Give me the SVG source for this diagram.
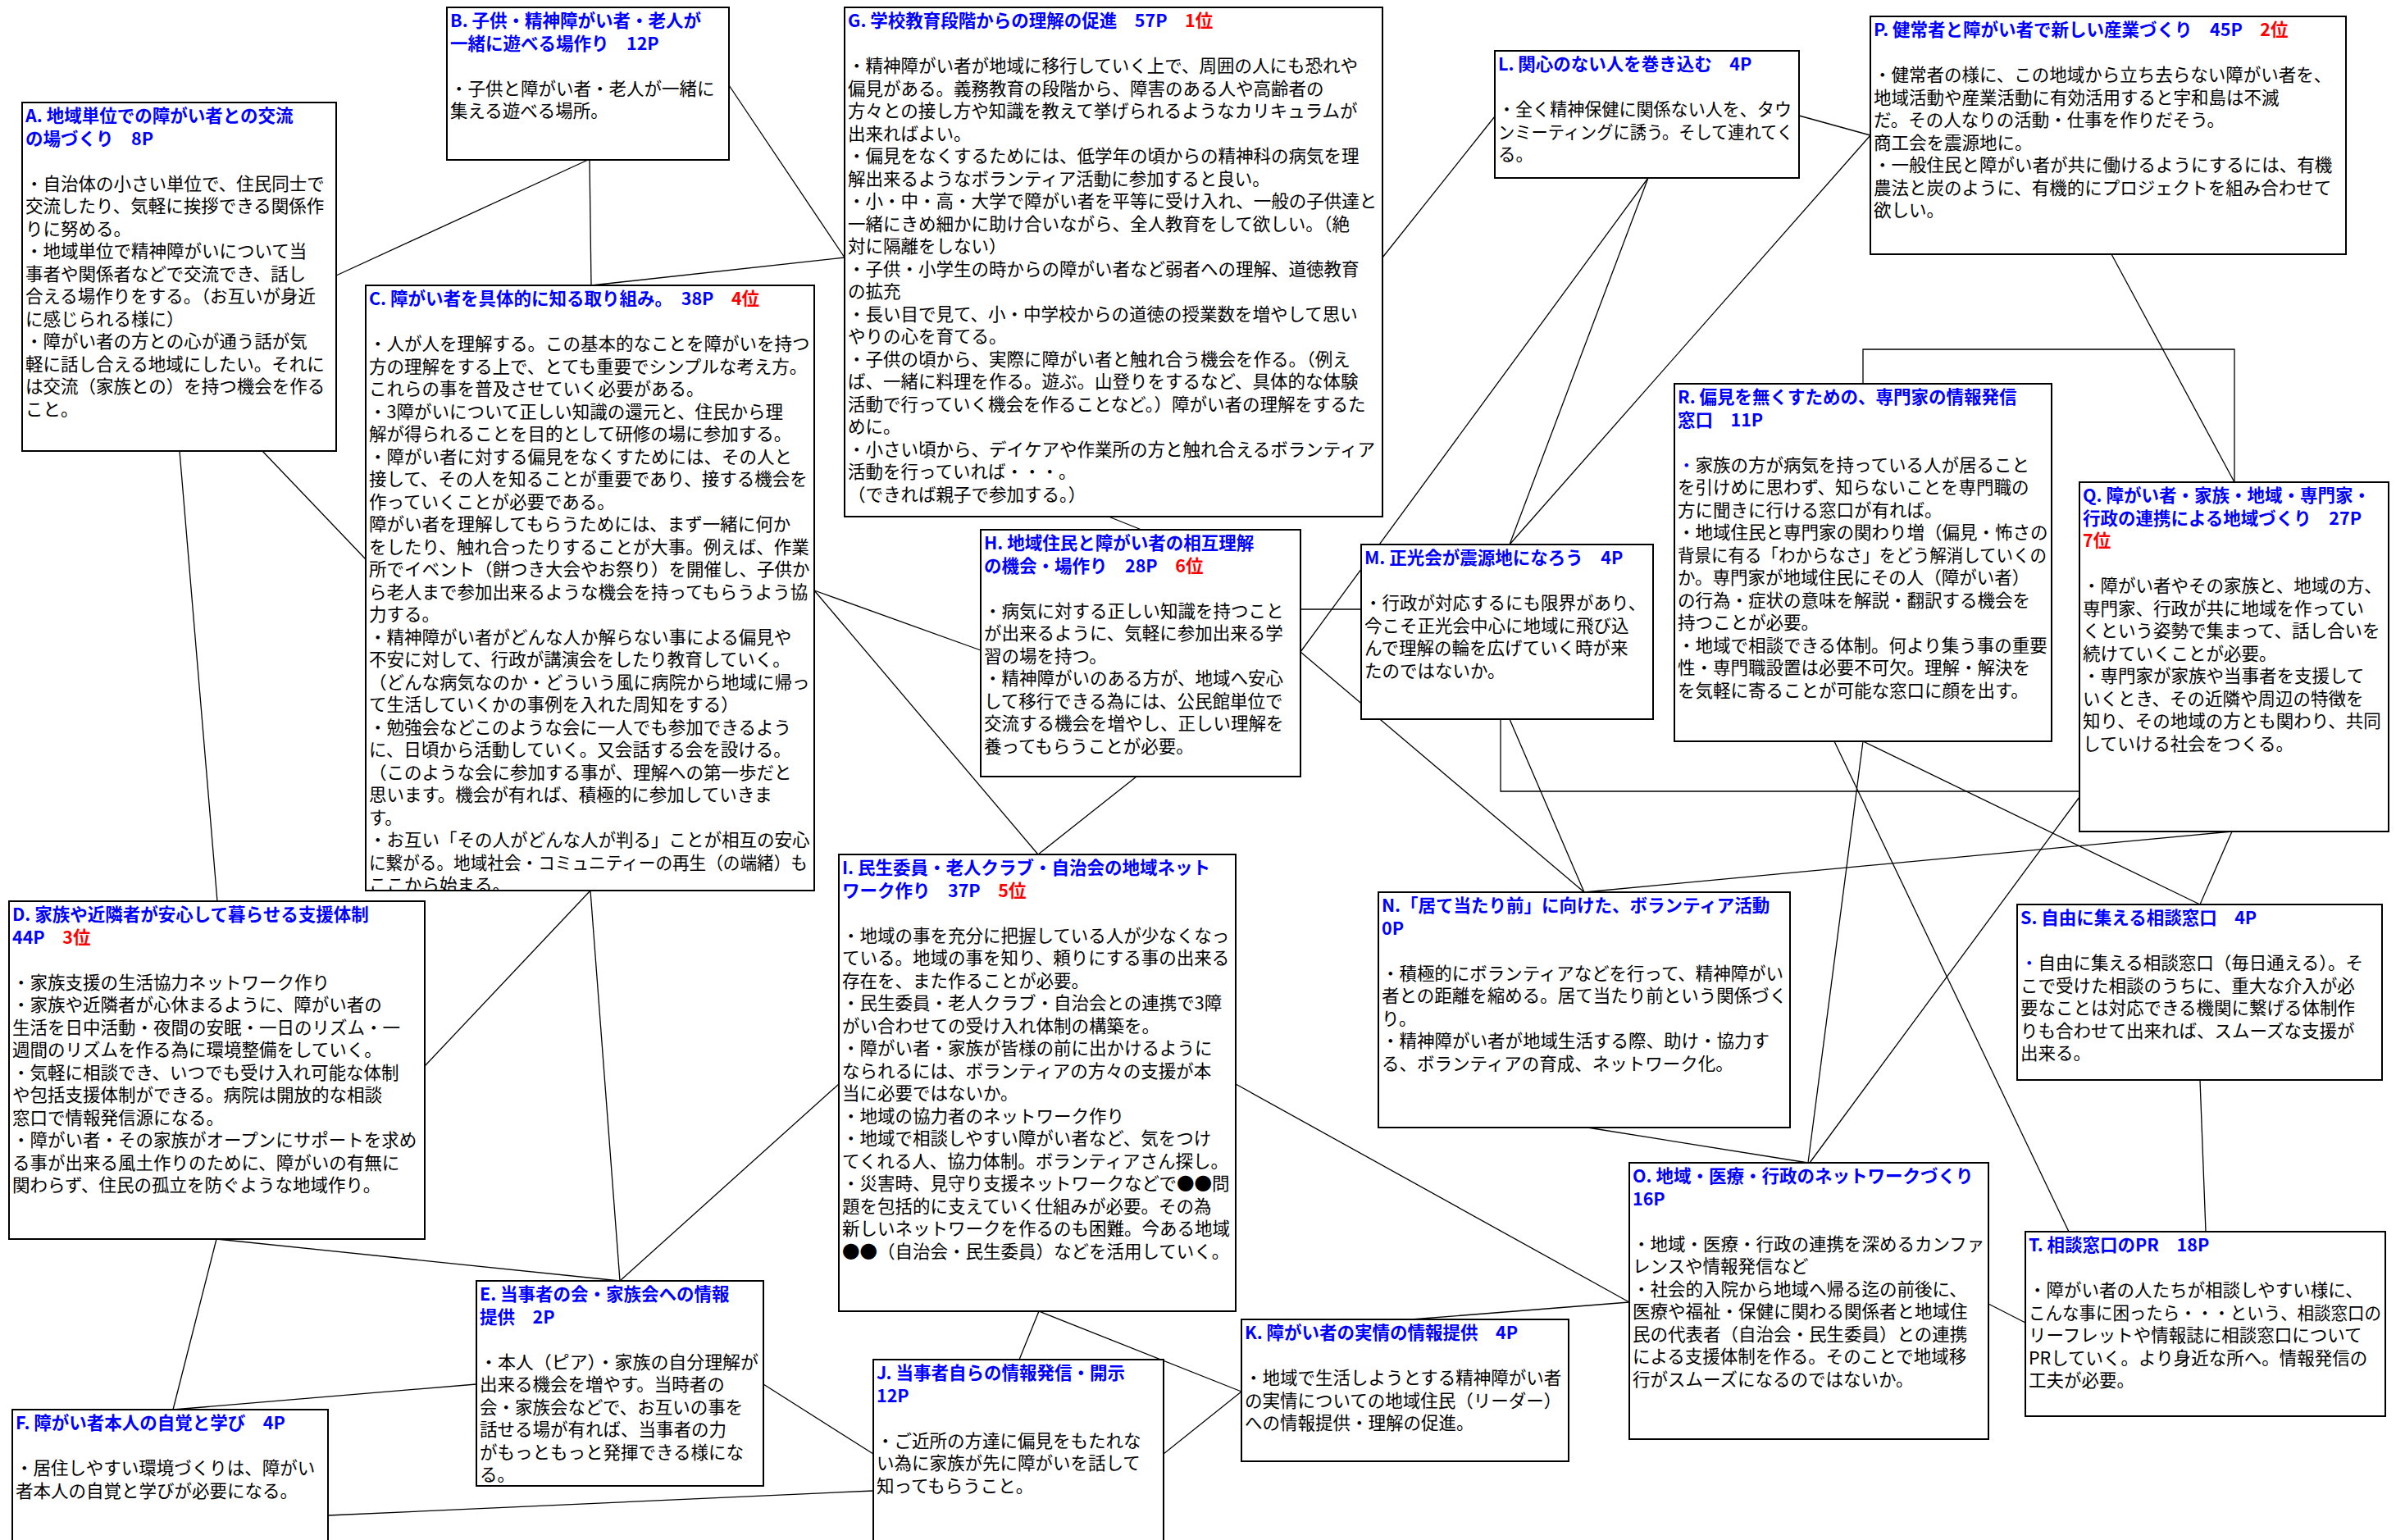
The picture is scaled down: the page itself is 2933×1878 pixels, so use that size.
<svg xmlns="http://www.w3.org/2000/svg" width="2933" height="1878" viewBox="0 0 2933 1878">
<style>
.box{fill:#fff;stroke:#000;stroke-width:2}
.tx{font-family:"Noto Sans CJK JP","Noto Sans",sans-serif;font-size:21.5px;fill:#000}
.ti{font-weight:bold;fill:#0000ff}
.rk{fill:#ff0000}
.bl{fill:#0000ff}
#connectors line,#connectors polyline{stroke:#000;stroke-width:1.3;fill:none}
</style>
<defs>
<clipPath id="clipC"><rect x="446" y="348" width="547" height="738"/></clipPath>
</defs>
<rect width="2933" height="1878" fill="#fff"/>
<g id="connectors">
<line x1="410" y1="336" x2="717" y2="195"/>
<line x1="719" y1="195" x2="721" y2="348"/>
<line x1="889" y1="104" x2="1030" y2="314"/>
<line x1="721" y1="348" x2="1030" y2="314"/>
<line x1="219" y1="550" x2="265" y2="1099"/>
<line x1="320" y1="550" x2="446" y2="682"/>
<line x1="993" y1="720" x2="1196" y2="793"/>
<line x1="993" y1="720" x2="1266" y2="1042"/>
<line x1="720" y1="1086" x2="518" y2="1300"/>
<line x1="720" y1="1086" x2="756" y2="1562"/>
<line x1="264" y1="1511" x2="211" y2="1719"/>
<line x1="264" y1="1511" x2="756" y2="1562"/>
<line x1="756" y1="1562" x2="1023" y2="1322"/>
<line x1="581" y1="1688" x2="211" y2="1719"/>
<line x1="931" y1="1688" x2="1065" y2="1773"/>
<line x1="400" y1="1848" x2="1065" y2="1818"/>
<line x1="1243" y1="1658" x2="1267" y2="1599"/>
<line x1="1267" y1="1599" x2="1514" y2="1697"/>
<line x1="1419" y1="1773" x2="1514" y2="1697"/>
<line x1="1721" y1="1609" x2="1987" y2="1588"/>
<line x1="1507" y1="1322" x2="1987" y2="1588"/>
<line x1="2425" y1="1590" x2="2470" y2="1613"/>
<line x1="1936" y1="1375" x2="2205" y2="1418"/>
<line x1="2272" y1="904" x2="2205" y2="1418"/>
<line x1="2536" y1="972" x2="2207" y2="1418"/>
<line x1="2237" y1="904" x2="2523" y2="1502"/>
<line x1="2272" y1="904" x2="2683" y2="1103"/>
<line x1="2722" y1="1014" x2="2683" y2="1103"/>
<line x1="2722" y1="1014" x2="1932" y2="1088"/>
<line x1="2683" y1="1317" x2="2690" y2="1502"/>
<polyline points="1830,877 1830,965 2536,965"/>
<line x1="1841" y1="877" x2="1932" y2="1088"/>
<line x1="1586" y1="795" x2="1932" y2="1088"/>
<line x1="1586" y1="795" x2="2010" y2="217"/>
<line x1="1586" y1="743" x2="1660" y2="743"/>
<line x1="2010" y1="217" x2="1841" y2="664"/>
<line x1="2281" y1="165" x2="1841" y2="664"/>
<line x1="2194" y1="141" x2="2281" y2="165"/>
<line x1="1686" y1="314" x2="1823" y2="142"/>
<line x1="1352" y1="630" x2="1392" y2="646"/>
<line x1="1386" y1="947" x2="1266" y2="1042"/>
<polyline points="2272,468 2272,426 2725,426 2725,588"/>
<line x1="2575" y1="310" x2="2725" y2="588"/>
</g>

<g id="node-A">
<rect class="box" x="27" y="125" width="383" height="425"/>
<text class="tx">
<tspan class="ti" x="31" y="149">A. 地域単位での障がい者との交流</tspan>
<tspan class="ti" x="31" y="176.5">の場づくり　8P</tspan>
<tspan x="31" y="231.5">・自治体の小さい単位で、住民同士で</tspan>
<tspan x="31" y="259">交流したり、気軽に挨拶できる関係作</tspan>
<tspan x="31" y="286.5">りに努める。</tspan>
<tspan x="31" y="314">・地域単位で精神障がいについて当</tspan>
<tspan x="31" y="341.5">事者や関係者などで交流でき、話し</tspan>
<tspan x="31" y="369">合える場作りをする。（お互いが身近</tspan>
<tspan x="31" y="396.5">に感じられる様に）</tspan>
<tspan x="31" y="424">・障がい者の方との心が通う話が気</tspan>
<tspan x="31" y="451.5">軽に話し合える地域にしたい。それに</tspan>
<tspan x="31" y="479">は交流（家族との）を持つ機会を作る</tspan>
<tspan x="31" y="506.5">こと。</tspan>
</text>
</g>

<g id="node-B">
<rect class="box" x="545" y="9" width="344" height="186"/>
<text class="tx">
<tspan class="ti" x="549" y="33">B. 子供・精神障がい者・老人が</tspan>
<tspan class="ti" x="549" y="60.5">一緒に遊べる場作り　12P</tspan>
<tspan x="549" y="115.5">・子供と障がい者・老人が一緒に</tspan>
<tspan x="549" y="143">集える遊べる場所。</tspan>
</text>
</g>

<g id="node-G">
<rect class="box" x="1030" y="9" width="656" height="621"/>
<text class="tx">
<tspan class="ti" x="1034" y="33">G. 学校教育段階からの理解の促進　57P　<tspan class="rk">1位</tspan></tspan>
<tspan x="1034" y="88">・精神障がい者が地域に移行していく上で、周囲の人にも恐れや</tspan>
<tspan x="1034" y="115.5">偏見がある。義務教育の段階から、障害のある人や高齢者の</tspan>
<tspan x="1034" y="143">方々との接し方や知識を教えて挙げられるようなカリキュラムが</tspan>
<tspan x="1034" y="170.5">出来ればよい。</tspan>
<tspan x="1034" y="198">・偏見をなくするためには、低学年の頃からの精神科の病気を理</tspan>
<tspan x="1034" y="225.5">解出来るようなボランティア活動に参加すると良い。</tspan>
<tspan x="1034" y="253">・小・中・高・大学で障がい者を平等に受け入れ、一般の子供達と</tspan>
<tspan x="1034" y="280.5">一緒にきめ細かに助け合いながら、全人教育をして欲しい。（絶</tspan>
<tspan x="1034" y="308">対に隔離をしない）</tspan>
<tspan x="1034" y="335.5">・子供・小学生の時からの障がい者など弱者への理解、道徳教育</tspan>
<tspan x="1034" y="363">の拡充</tspan>
<tspan x="1034" y="390.5">・長い目で見て、小・中学校からの道徳の授業数を増やして思い</tspan>
<tspan x="1034" y="418">やりの心を育てる。</tspan>
<tspan x="1034" y="445.5">・子供の頃から、実際に障がい者と触れ合う機会を作る。（例え</tspan>
<tspan x="1034" y="473">ば、一緒に料理を作る。遊ぶ。山登りをするなど、具体的な体験</tspan>
<tspan x="1034" y="500.5">活動で行っていく機会を作ることなど。）障がい者の理解をするた</tspan>
<tspan x="1034" y="528">めに。</tspan>
<tspan x="1034" y="555.5">・小さい頃から、デイケアや作業所の方と触れ合えるボランティア</tspan>
<tspan x="1034" y="583">活動を行っていれば・・・。</tspan>
<tspan x="1034" y="610.5">（できれば親子で参加する。）</tspan>
</text>
</g>

<g id="node-C">
<rect class="box" x="446" y="348" width="547" height="738"/>
<text class="tx" clip-path="url(#clipC)">
<tspan class="ti" x="450" y="372">C. 障がい者を具体的に知る取り組み。　38P　<tspan class="rk">4位</tspan></tspan>
<tspan x="450" y="427">・人が人を理解する。この基本的なことを障がいを持つ</tspan>
<tspan x="450" y="454.5">方の理解をする上で、とても重要でシンプルな考え方。</tspan>
<tspan x="450" y="482">これらの事を普及させていく必要がある。</tspan>
<tspan x="450" y="509.5">・3障がいについて正しい知識の還元と、住民から理</tspan>
<tspan x="450" y="537">解が得られることを目的として研修の場に参加する。</tspan>
<tspan x="450" y="564.5">・障がい者に対する偏見をなくすためには、その人と</tspan>
<tspan x="450" y="592">接して、その人を知ることが重要であり、接する機会を</tspan>
<tspan x="450" y="619.5">作っていくことが必要である。</tspan>
<tspan x="450" y="647">障がい者を理解してもらうためには、まず一緒に何か</tspan>
<tspan x="450" y="674.5">をしたり、触れ合ったりすることが大事。例えば、作業</tspan>
<tspan x="450" y="702">所でイベント（餅つき大会やお祭り）を開催し、子供か</tspan>
<tspan x="450" y="729.5">ら老人まで参加出来るような機会を持ってもらうよう協</tspan>
<tspan x="450" y="757">力する。</tspan>
<tspan x="450" y="784.5">・精神障がい者がどんな人か解らない事による偏見や</tspan>
<tspan x="450" y="812">不安に対して、行政が講演会をしたり教育していく。</tspan>
<tspan x="450" y="839.5">（どんな病気なのか・どういう風に病院から地域に帰っ</tspan>
<tspan x="450" y="867">て生活していくかの事例を入れた周知をする）</tspan>
<tspan x="450" y="894.5">・勉強会などこのような会に一人でも参加できるよう</tspan>
<tspan x="450" y="922">に、日頃から活動していく。又会話する会を設ける。</tspan>
<tspan x="450" y="949.5">（このような会に参加する事が、理解への第一歩だと</tspan>
<tspan x="450" y="977">思います。機会が有れば、積極的に参加していきま</tspan>
<tspan x="450" y="1004.5">す。</tspan>
<tspan x="450" y="1032">・お互い「その人がどんな人が判る」ことが相互の安心</tspan>
<tspan x="450" y="1059.5" textLength="535" lengthAdjust="spacingAndGlyphs">に繋がる。地域社会・コミュニティーの再生（の端緒）も</tspan>
<tspan x="450" y="1087">ここから始まる。</tspan>
</text>
</g>

<g id="node-H">
<rect class="box" x="1196" y="646" width="390" height="301"/>
<text class="tx">
<tspan class="ti" x="1200" y="670">H. 地域住民と障がい者の相互理解</tspan>
<tspan class="ti" x="1200" y="697.5">の機会・場作り　28P　<tspan class="rk">6位</tspan></tspan>
<tspan x="1200" y="752.5">・病気に対する正しい知識を持つこと</tspan>
<tspan x="1200" y="780">が出来るように、気軽に参加出来る学</tspan>
<tspan x="1200" y="807.5">習の場を持つ。</tspan>
<tspan x="1200" y="835">・精神障がいのある方が、地域へ安心</tspan>
<tspan x="1200" y="862.5">して移行できる為には、公民館単位で</tspan>
<tspan x="1200" y="890">交流する機会を増やし、正しい理解を</tspan>
<tspan x="1200" y="917.5">養ってもらうことが必要。</tspan>
</text>
</g>

<g id="node-M">
<rect class="box" x="1660" y="664" width="356" height="213"/>
<text class="tx">
<tspan class="ti" x="1664" y="688">M. 正光会が震源地になろう　4P</tspan>
<tspan x="1664" y="743">・行政が対応するにも限界があり、</tspan>
<tspan x="1664" y="770.5">今こそ正光会中心に地域に飛び込</tspan>
<tspan x="1664" y="798">んで理解の輪を広げていく時が来</tspan>
<tspan x="1664" y="825.5">たのではないか。</tspan>
</text>
</g>

<g id="node-L">
<rect class="box" x="1823" y="62" width="371" height="155"/>
<text class="tx">
<tspan class="ti" x="1827" y="86">L. 関心のない人を巻き込む　4P</tspan>
<tspan x="1827" y="141" textLength="358" lengthAdjust="spacingAndGlyphs">・全く精神保健に関係ない人を、タウ</tspan>
<tspan x="1827" y="168.5" textLength="360" lengthAdjust="spacingAndGlyphs">ンミーティングに誘う。そして連れてく</tspan>
<tspan x="1827" y="196">る。</tspan>
</text>
</g>

<g id="node-P">
<rect class="box" x="2281" y="20" width="580" height="290"/>
<text class="tx">
<tspan class="ti" x="2285" y="44">P. 健常者と障がい者で新しい産業づくり　45P　<tspan class="rk">2位</tspan></tspan>
<tspan x="2285" y="99">・健常者の様に、この地域から立ち去らない障がい者を、</tspan>
<tspan x="2285" y="126.5">地域活動や産業活動に有効活用すると宇和島は不滅</tspan>
<tspan x="2285" y="154">だ。その人なりの活動・仕事を作りだそう。</tspan>
<tspan x="2285" y="181.5">商工会を震源地に。</tspan>
<tspan x="2285" y="209">・一般住民と障がい者が共に働けるようにするには、有機</tspan>
<tspan x="2285" y="236.5">農法と炭のように、有機的にプロジェクトを組み合わせて</tspan>
<tspan x="2285" y="264">欲しい。</tspan>
</text>
</g>

<g id="node-R">
<rect class="box" x="2042" y="468" width="460" height="436"/>
<text class="tx">
<tspan class="ti" x="2046" y="492">R. 偏見を無くすための、専門家の情報発信</tspan>
<tspan class="ti" x="2046" y="519.5">窓口　11P</tspan>
<tspan x="2046" y="574.5"><tspan class="bl">・</tspan>家族の方が病気を持っている人が居ること</tspan>
<tspan x="2046" y="602">を引けめに思わず、知らないことを専門職の</tspan>
<tspan x="2046" y="629.5">方に聞きに行ける窓口が有れば。</tspan>
<tspan x="2046" y="657">・地域住民と専門家の関わり増（偏見・怖さの</tspan>
<tspan x="2046" y="684.5" textLength="450" lengthAdjust="spacingAndGlyphs">背景に有る「わからなさ」をどう解消していくの</tspan>
<tspan x="2046" y="712">か。専門家が地域住民にその人（障がい者）</tspan>
<tspan x="2046" y="739.5">の行為・症状の意味を解説・翻訳する機会を</tspan>
<tspan x="2046" y="767">持つことが必要。</tspan>
<tspan x="2046" y="794.5">・地域で相談できる体制。何より集う事の重要</tspan>
<tspan x="2046" y="822">性・専門職設置は必要不可欠。理解・解決を</tspan>
<tspan x="2046" y="849.5">を気軽に寄ることが可能な窓口に顔を出す。</tspan>
</text>
</g>

<g id="node-Q">
<rect class="box" x="2536" y="588" width="377" height="426"/>
<text class="tx">
<tspan class="ti" x="2540" y="612">Q. 障がい者・家族・地域・専門家・</tspan>
<tspan class="ti" x="2540" y="639.5">行政の連携による地域づくり　27P</tspan>
<tspan class="ti rk" x="2540" y="667">7位</tspan>
<tspan x="2540" y="722">・障がい者やその家族と、地域の方、</tspan>
<tspan x="2540" y="749.5">専門家、行政が共に地域を作ってい</tspan>
<tspan x="2540" y="777">くという姿勢で集まって、話し合いを</tspan>
<tspan x="2540" y="804.5">続けていくことが必要。</tspan>
<tspan x="2540" y="832">・専門家が家族や当事者を支援して</tspan>
<tspan x="2540" y="859.5">いくとき、その近隣や周辺の特徴を</tspan>
<tspan x="2540" y="887">知り、その地域の方とも関わり、共同</tspan>
<tspan x="2540" y="914.5">していける社会をつくる。</tspan>
</text>
</g>

<g id="node-D">
<rect class="box" x="11" y="1099" width="507" height="412"/>
<text class="tx">
<tspan class="ti" x="15" y="1123">D. 家族や近隣者が安心して暮らせる支援体制</tspan>
<tspan class="ti" x="15" y="1150.5">44P　<tspan class="rk">3位</tspan></tspan>
<tspan x="15" y="1205.5">・家族支援の生活協力ネットワーク作り</tspan>
<tspan x="15" y="1233">・家族や近隣者が心休まるように、障がい者の</tspan>
<tspan x="15" y="1260.5">生活を日中活動・夜間の安眠・一日のリズム・一</tspan>
<tspan x="15" y="1288">週間のリズムを作る為に環境整備をしていく。</tspan>
<tspan x="15" y="1315.5">・気軽に相談でき、いつでも受け入れ可能な体制</tspan>
<tspan x="15" y="1343">や包括支援体制ができる。病院は開放的な相談</tspan>
<tspan x="15" y="1370.5">窓口で情報発信源になる。</tspan>
<tspan x="15" y="1398">・障がい者・その家族がオープンにサポートを求め</tspan>
<tspan x="15" y="1425.5">る事が出来る風土作りのために、障がいの有無に</tspan>
<tspan x="15" y="1453">関わらず、住民の孤立を防ぐような地域作り。</tspan>
</text>
</g>

<g id="node-I">
<rect class="box" x="1023" y="1042" width="484" height="557"/>
<text class="tx">
<tspan class="ti" x="1027" y="1066">I. 民生委員・老人クラブ・自治会の地域ネット</tspan>
<tspan class="ti" x="1027" y="1093.5">ワーク作り　37P　<tspan class="rk">5位</tspan></tspan>
<tspan x="1027" y="1148.5">・地域の事を充分に把握している人が少なくなっ</tspan>
<tspan x="1027" y="1176">ている。地域の事を知り、頼りにする事の出来る</tspan>
<tspan x="1027" y="1203.5">存在を、また作ることが必要。</tspan>
<tspan x="1027" y="1231">・民生委員・老人クラブ・自治会との連携で3障</tspan>
<tspan x="1027" y="1258.5">がい合わせての受け入れ体制の構築を。</tspan>
<tspan x="1027" y="1286">・障がい者・家族が皆様の前に出かけるように</tspan>
<tspan x="1027" y="1313.5">なられるには、ボランティアの方々の支援が本</tspan>
<tspan x="1027" y="1341">当に必要ではないか。</tspan>
<tspan x="1027" y="1368.5">・地域の協力者のネットワーク作り</tspan>
<tspan x="1027" y="1396">・地域で相談しやすい障がい者など、気をつけ</tspan>
<tspan x="1027" y="1423.5">てくれる人、協力体制。ボランティアさん探し。</tspan>
<tspan x="1027" y="1451">・災害時、見守り支援ネットワークなどで●●問</tspan>
<tspan x="1027" y="1478.5">題を包括的に支えていく仕組みが必要。その為</tspan>
<tspan x="1027" y="1506">新しいネットワークを作るのも困難。今ある地域</tspan>
<tspan x="1027" y="1533.5">●●（自治会・民生委員）などを活用していく。</tspan>
</text>
</g>

<g id="node-N">
<rect class="box" x="1681" y="1088" width="502" height="287"/>
<text class="tx">
<tspan class="ti" x="1685" y="1112">N.「居て当たり前」に向けた、ボランティア活動</tspan>
<tspan class="ti" x="1685" y="1139.5">0P</tspan>
<tspan x="1685" y="1194.5" textLength="490" lengthAdjust="spacingAndGlyphs">・積極的にボランティアなどを行って、精神障がい</tspan>
<tspan x="1685" y="1222">者との距離を縮める。居て当たり前という関係づく</tspan>
<tspan x="1685" y="1249.5">り。</tspan>
<tspan x="1685" y="1277">・精神障がい者が地域生活する際、助け・協力す</tspan>
<tspan x="1685" y="1304.5">る、ボランティアの育成、ネットワーク化。</tspan>
</text>
</g>

<g id="node-S">
<rect class="box" x="2460" y="1103" width="445" height="214"/>
<text class="tx">
<tspan class="ti" x="2464" y="1127">S. 自由に集える相談窓口　4P</tspan>
<tspan x="2464" y="1182"><tspan class="bl">・</tspan>自由に集える相談窓口（毎日通える）。そ</tspan>
<tspan x="2464" y="1209.5">こで受けた相談のうちに、重大な介入が必</tspan>
<tspan x="2464" y="1237">要なことは対応できる機関に繋げる体制作</tspan>
<tspan x="2464" y="1264.5">りも合わせて出来れば、スムーズな支援が</tspan>
<tspan x="2464" y="1292">出来る。</tspan>
</text>
</g>

<g id="node-O">
<rect class="box" x="1987" y="1418" width="438" height="337"/>
<text class="tx">
<tspan class="ti" x="1991" y="1442">O. 地域・医療・行政のネットワークづくり</tspan>
<tspan class="ti" x="1991" y="1469.5">16P</tspan>
<tspan x="1991" y="1524.5">・地域・医療・行政の連携を深めるカンファ</tspan>
<tspan x="1991" y="1552">レンスや情報発信など</tspan>
<tspan x="1991" y="1579.5">・社会的入院から地域へ帰る迄の前後に、</tspan>
<tspan x="1991" y="1607">医療や福祉・保健に関わる関係者と地域住</tspan>
<tspan x="1991" y="1634.5">民の代表者（自治会・民生委員）との連携</tspan>
<tspan x="1991" y="1662">による支援体制を作る。そのことで地域移</tspan>
<tspan x="1991" y="1689.5">行がスムーズになるのではないか。</tspan>
</text>
</g>

<g id="node-T">
<rect class="box" x="2470" y="1502" width="439" height="225"/>
<text class="tx">
<tspan class="ti" x="2474" y="1526">T. 相談窓口のPR　18P</tspan>
<tspan x="2474" y="1581">・障がい者の人たちが相談しやすい様に、</tspan>
<tspan x="2474" y="1608.5" textLength="430" lengthAdjust="spacingAndGlyphs">こんな事に困ったら・・・という、相談窓口の</tspan>
<tspan x="2474" y="1636">リーフレットや情報誌に相談窓口について</tspan>
<tspan x="2474" y="1663.5">PRしていく。より身近な所へ。情報発信の</tspan>
<tspan x="2474" y="1691">工夫が必要。</tspan>
</text>
</g>

<g id="node-E">
<rect class="box" x="581" y="1562" width="350" height="250"/>
<text class="tx">
<tspan class="ti" x="585" y="1586">E. 当事者の会・家族会への情報</tspan>
<tspan class="ti" x="585" y="1613.5">提供　2P</tspan>
<tspan x="585" y="1668.5" textLength="340" lengthAdjust="spacingAndGlyphs">・本人（ピア）・家族の自分理解が</tspan>
<tspan x="585" y="1696">出来る機会を増やす。当時者の</tspan>
<tspan x="585" y="1723.5">会・家族会などで、お互いの事を</tspan>
<tspan x="585" y="1751">話せる場が有れば、当事者の力</tspan>
<tspan x="585" y="1778.5">がもっともっと発揮できる様にな</tspan>
<tspan x="585" y="1806">る。</tspan>
</text>
</g>

<g id="node-F">
<rect class="box" x="15" y="1719" width="385" height="170"/>
<text class="tx">
<tspan class="ti" x="19" y="1743">F. 障がい者本人の自覚と学び　4P</tspan>
<tspan x="19" y="1798">・居住しやすい環境づくりは、障がい</tspan>
<tspan x="19" y="1825.5">者本人の自覚と学びが必要になる。</tspan>
</text>
</g>

<g id="node-J">
<rect class="box" x="1065" y="1658" width="354" height="230"/>
<text class="tx">
<tspan class="ti" x="1069" y="1682">J. 当事者自らの情報発信・開示</tspan>
<tspan class="ti" x="1069" y="1709.5">12P</tspan>
<tspan x="1069" y="1764.5">・ご近所の方達に偏見をもたれな</tspan>
<tspan x="1069" y="1792">い為に家族が先に障がいを話して</tspan>
<tspan x="1069" y="1819.5">知ってもらうこと。</tspan>
</text>
</g>

<g id="node-K">
<rect class="box" x="1514" y="1609" width="399" height="173"/>
<text class="tx">
<tspan class="ti" x="1518" y="1633">K. 障がい者の実情の情報提供　4P</tspan>
<tspan x="1518" y="1688">・地域で生活しようとする精神障がい者</tspan>
<tspan x="1518" y="1715.5">の実情についての地域住民（リーダー）</tspan>
<tspan x="1518" y="1743">への情報提供・理解の促進。</tspan>
</text>
</g>
</svg>
